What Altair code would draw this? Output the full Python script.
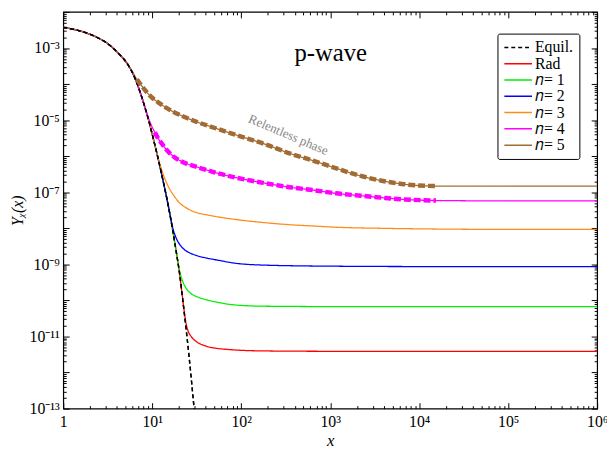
import altair as alt
import pandas as pd

# ---------------- data ----------------
SERIES = ["Equil.", "Rad", "𝑛= 1", "𝑛= 2", "𝑛= 3", "𝑛= 4", "𝑛= 5"]
COLORS = ["#000000", "#FF0000", "#00EE00", "#0000FF", "#FF8C1A", "#FF00FF", "#A26B33"]
DASHES = [[4, 3], [1, 0], [1, 0], [1, 0], [1, 0], [1, 0], [1, 0]]

eq_x = [1, 1.5, 2, 2.5, 3, 3.5, 4.18, 5.39, 6.4, 7.57, 8.99, 10.2, 11.6, 13.2,
        15.0, 17.0, 18.5, 20.2, 22.5, 26.0, 29.6, 31.0]
eq_logy = [-2.43, -2.52, -2.62, -2.73, -2.84, -2.97, -3.15, -3.48, -3.84, -4.34,
           -4.95, -5.48, -6.05, -6.67, -7.32, -8.06, -8.61, -9.22, -10.18, -11.58,
           -13.02, -13.55]

rad_x = [21.5, 22.5, 23.4, 24.3, 25.5, 27, 29.5, 33, 36.6, 45, 53.5, 81, 177, 1e3, 1e4, 1e5, 1e6]
rad_logy = [-9.76, -10.16, -10.48, -10.70, -10.87, -10.98, -11.09, -11.18, -11.23, -11.30,
            -11.33, -11.37, -11.40, -11.41, -11.41, -11.41, -11.41]

n1_x = [19.0, 19.8, 20.6, 21.6, 23.0, 25.0, 28, 32, 41.7, 53.7, 81, 177, 1e3, 1e4, 1e5, 1e6]
n1_logy = [-8.79, -9.06, -9.25, -9.42, -9.58, -9.72, -9.83, -9.90, -9.99, -10.05, -10.12,
           -10.16, -10.17, -10.17, -10.17, -10.17]

n2_x = [15.5, 16.3, 17.0, 17.8, 18.8, 20, 21.5, 23.5, 26.3, 32, 41.7, 53.7, 81, 177, 1e3,
        1e4, 1e5, 1e6]
n2_logy = [-7.50, -7.77, -7.98, -8.15, -8.30, -8.42, -8.52, -8.61, -8.68, -8.76, -8.83,
           -8.88, -8.96, -9.02, -9.05, -9.06, -9.06, -9.06]

n3_x = [11.0, 11.6, 12.4, 13.2, 14.1, 15, 16.3, 17.8, 20, 22.9, 27, 32, 41.7, 53.7, 89.5,
        177, 349, 690, 1150, 3790, 15450, 1e5, 1e6]
n3_logy = [-5.82, -6.03, -6.28, -6.48, -6.67, -6.82, -6.98, -7.12, -7.28, -7.40, -7.50,
           -7.57, -7.63, -7.68, -7.76, -7.84, -7.90, -7.94, -7.97, -8.00, -8.02, -8.03, -8.03]

n4_x = [8.5, 9.0, 9.5, 10.0, 10.7, 11.6, 12.7, 13.8, 15.5, 17.8, 22.9, 30.9, 41.7, 53.7,
        89.5, 177, 349, 690, 1150, 2070, 3790, 6870, 15450, 1e5, 1e6]
n4_logy = [-4.76, -4.93, -5.07, -5.20, -5.34, -5.50, -5.64, -5.76, -5.90, -6.03, -6.18,
           -6.29, -6.39, -6.47, -6.60, -6.74, -6.86, -6.95, -7.03, -7.09, -7.15, -7.20,
           -7.23, -7.24, -7.24]

n5_x = [4.8, 5.4, 6.0, 6.7, 7.5, 8.5, 10, 12, 13.8, 17, 21, 31, 53.7, 89.5, 177, 349, 690,
        1150, 2070, 3790, 6870, 15450, 1e5, 1e6]
n5_logy = [-3.33, -3.49, -3.66, -3.87, -4.03, -4.20, -4.38, -4.53, -4.63, -4.76, -4.87,
           -5.04, -5.24, -5.42, -5.65, -5.92, -6.15, -6.33, -6.53, -6.68, -6.78, -6.83,
           -6.83, -6.83]

# "relentless phase" (thick dashed) ranges
n4_dash_range = [10.7, 15450]
n5_dash_range = [6.7, 15450]

x_tick_vals = [1, 10, 100, 1e3, 1e4, 1e5, 1e6]
x_tick_labels = ["1", "10¹", "10²", "10³", "10⁴", "10⁵", "10⁶"]
y_tick_vals = [1e-13, 1e-11, 1e-9, 1e-7, 1e-5, 1e-3]
y_tick_labels = ["10⁻¹³", "10⁻¹¹", "10⁻⁹", "10⁻⁷", "10⁻⁵", "10⁻³"]

title_text = ["p-wave"]
title_pos = [1012, 7.1e-4]
note_text = ["Relentless phase"]
note_pos = [338, 3.9e-6]

# ---------------- build tables ----------------
def full_series(dx, dly):
    xs = [x for x in eq_x if x < dx[0]] + list(dx)
    ly = [l for x, l in zip(eq_x, eq_logy) if x < dx[0]] + list(dly)
    return xs, ly

parts = {
    "Rad": full_series(rad_x, rad_logy),
    "𝑛= 1": full_series(n1_x, n1_logy),
    "𝑛= 2": full_series(n2_x, n2_logy),
    "𝑛= 3": full_series(n3_x, n3_logy),
    "𝑛= 4": full_series(n4_x, n4_logy),
    "𝑛= 5": full_series(n5_x, n5_logy),
    "Equil.": (eq_x, eq_logy),
}
rows = []
for name in SERIES[1:] + SERIES[:1]:
    xs, ly = parts[name]
    for i, (x, l) in enumerate(zip(xs, ly)):
        rows.append({"series": name, "x": x, "y": 10 ** l, "i": i})
df = pd.DataFrame(rows)

def dashed(name, rng):
    return df[(df.series == name) & (df.x >= rng[0]) & (df.x <= rng[1])]

d4 = dashed("𝑛= 4", n4_dash_range)
d5 = dashed("𝑛= 5", n5_dash_range)
deq = df[df.series == "Equil."]

W, H = 541, 402
FONT = "Liberation Serif"
xscale = alt.Scale(type="log", domain=[1, 1e6], nice=False)
yscale = alt.Scale(type="log", domain=[1e-13, 1e-2], nice=False)

def label_expr(vals, labs):
    p = [f"abs(datum.value - {v!r}) < {v * 1e-3!r} ? '{l}'" for v, l in zip(vals, labs)]
    return " : ".join(p) + " : ''"

all_x_ticks = [k * 10 ** n for n in range(0, 6) for k in range(1, 10)] + [1e6]
all_y_ticks = [k * 10.0 ** n for n in range(-13, -2) for k in range(1, 10)] + [1e-2]
major_test = "abs(log(datum.value)/LN10 - round(log(datum.value)/LN10)) < 0.001"
tick_size = {"condition": {"test": major_test, "value": 6}, "value": 3}

legend_kw = dict(
    title=None, orient="none", legendX=440, legendY=22, fillColor="white",
    strokeColor="black", cornerRadius=2, padding=6, labelFont=FONT, labelFontSize=16,
    symbolType="M-1,0H3", symbolSize=196, symbolStrokeWidth=1.5, labelOffset=16,
    rowPadding=0.5, labelLimit=0, labelColor="black")

main = alt.Chart(df).mark_line(strokeWidth=1.3, clip=True, interpolate="monotone").encode(
    x=alt.X("x:Q", scale=xscale, axis=alt.Axis(
        orient="bottom", values=x_tick_vals, labelExpr=label_expr(x_tick_vals, x_tick_labels),
        ticks=False, tickSize=0, domain=False, grid=False, title="x",
        titleFont=FONT, titleFontStyle="italic", titleFontSize=17, titleFontWeight="normal",
        titlePadding=3, labelFont=FONT, labelFontSize=16, labelPadding=5, labelColor="black",
        labelFlush=False, labelOverlap=False)),
    y=alt.Y("y:Q", scale=yscale, axis=alt.Axis(
        orient="left", values=y_tick_vals, labelExpr=label_expr(y_tick_vals, y_tick_labels),
        ticks=False, tickSize=0, domain=False, grid=False, title="Yᵪ(x)",
        titleFont=FONT, titleFontStyle="italic", titleFontSize=16, titleFontWeight="normal",
        titlePadding=4, labelFont=FONT, labelFontSize=16, labelPadding=4, labelColor="black",
        labelFlush=False, labelOverlap=False)),
    color=alt.Color("series:N", scale=alt.Scale(domain=SERIES, range=COLORS),
                    legend=alt.Legend(**legend_kw)),
    strokeDash=alt.StrokeDash("series:N", scale=alt.Scale(domain=SERIES, range=DASHES),
                              legend=alt.Legend(**legend_kw)),
    detail="series:N",
    order="i:Q",
)

def plain(data, **mk):
    return alt.Chart(data).mark_line(clip=True, interpolate="monotone", **mk).encode(
        x=alt.X("x:Q", scale=xscale, axis=None),
        y=alt.Y("y:Q", scale=yscale, axis=None),
        order="i:Q",
    )

eq_top = plain(deq, color="black", strokeWidth=1.5, strokeDash=[4, 3])
dash4 = plain(d4, color="#FF00FF", strokeWidth=4.5, strokeDash=[7, 3])
dash5 = plain(d5, color="#A26B33", strokeWidth=4.5, strokeDash=[7, 3])

title_df = pd.DataFrame({"x": [title_pos[0]], "y": [title_pos[1]], "t": title_text})
note_df = pd.DataFrame({"x": [note_pos[0]], "y": [note_pos[1]], "t": note_text})
title = alt.Chart(title_df).mark_text(font=FONT, fontSize=25, color="black").encode(
    x=alt.X("x:Q", scale=xscale, axis=None), y=alt.Y("y:Q", scale=yscale, axis=None), text="t:N")
note = alt.Chart(note_df).mark_text(font=FONT, fontSize=13, color="#888888", angle=23).encode(
    x=alt.X("x:Q", scale=xscale, axis=None), y=alt.Y("y:Q", scale=yscale, axis=None), text="t:N")

def tick_layer(xorient, yorient):
    return alt.Chart(deq).mark_point(opacity=0).encode(
        x=alt.X("x:Q", scale=xscale, axis=alt.Axis(
            orient=xorient, offset=-H, values=all_x_ticks, labels=False, domain=False, grid=False,
            title=None, tickSize=tick_size, tickColor="black", tickWidth=1)),
        y=alt.Y("y:Q", scale=yscale, axis=alt.Axis(
            orient=yorient, offset=-W, values=all_y_ticks, labels=False, domain=False, grid=False,
            title=None, tickSize=tick_size, tickColor="black", tickWidth=1)),
    )

ticks_in = tick_layer("top", "right")     # inward ticks on bottom & left edges
ticks_out = tick_layer("bottom", "left")  # inward ticks on top & right edges

chart = alt.layer(main, eq_top, dash4, dash5, title, note, ticks_in, ticks_out).resolve_axis(
    x="independent", y="independent"
).properties(
    width=W, height=H,
    autosize=alt.AutoSizeParams(type="none"),
    padding={"left": 56, "top": 1, "right": 10, "bottom": 42},
).configure(font=FONT).configure_view(stroke="black", strokeWidth=1.2).configure_legend(
    labelFont=FONT, labelFontSize=16
).configure_axis(labelFont=FONT, titleFont=FONT)

chart.save("out.html", embed_options={"renderer": "svg", "actions": False})
